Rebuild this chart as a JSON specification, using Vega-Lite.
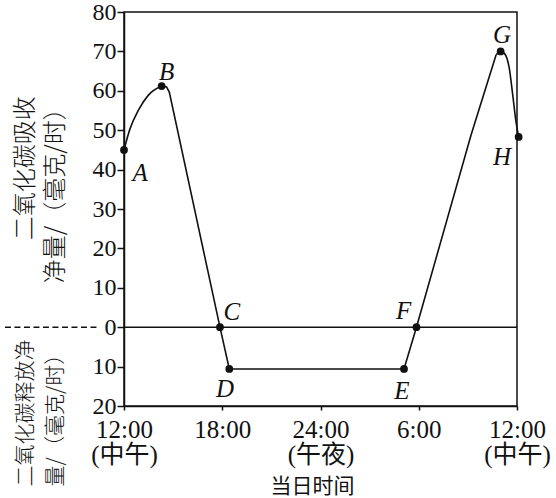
{
  "$schema": "https://vega.github.io/schema/vega-lite/v6.json",
  "width": 393,
  "height": 394,
  "autosize": "none",
  "padding": {"left": 124, "top": 12, "right": 39, "bottom": 92},
  "background": "white",
  "config": {
    "view": {"stroke": "#111", "strokeWidth": 1.5},
    "font": "Liberation Serif"
  },
  "datasets": {
    "smooth": [
      {"t": 0, "v": 45, "grp": "AB"},
      {"t": 0.37, "v": 50.4, "grp": "AB"},
      {"t": 0.88, "v": 55.1, "grp": "AB"},
      {"t": 1.49, "v": 58.9, "grp": "AB"},
      {"t": 2.3, "v": 61.2, "grp": "AB"},
      {"t": 22.72, "v": 69.1, "grp": "GH"},
      {"t": 23.0, "v": 70, "grp": "GH"},
      {"t": 23.23, "v": 69.5, "grp": "GH"},
      {"t": 23.53, "v": 65.7, "grp": "GH"},
      {"t": 23.74, "v": 58.9, "grp": "GH"},
      {"t": 23.94, "v": 52.1, "grp": "GH"},
      {"t": 24.1, "v": 48.3, "grp": "GH"}
    ],
    "straight": [
      {"t": 2.3, "v": 61.2},
      {"t": 2.6, "v": 61.0},
      {"t": 2.77, "v": 59.6},
      {"t": 5.86, "v": 0},
      {"t": 6.43, "v": -10.6},
      {"t": 17.1, "v": -10.6},
      {"t": 17.86, "v": 0},
      {"t": 21.19, "v": 48.7},
      {"t": 22.72, "v": 69.1}
    ],
    "pts": [
      {"name": "A", "t": 0, "v": 45},
      {"name": "B", "t": 2.3, "v": 61.2},
      {"name": "C", "t": 5.86, "v": 0},
      {"name": "D", "t": 6.43, "v": -10.6},
      {"name": "E", "t": 17.1, "v": -10.6},
      {"name": "F", "t": 17.86, "v": 0},
      {"name": "G", "t": 23.0, "v": 70},
      {"name": "H", "t": 24.1, "v": 48.3}
    ],
    "lbls": [
      {"name": "A", "t": 0.98, "v": 39.1},
      {"name": "B", "t": 2.61, "v": 64.8},
      {"name": "C", "t": 6.58, "v": 3.8},
      {"name": "D", "t": 6.17, "v": -15.7},
      {"name": "E", "t": 16.97, "v": -16.1},
      {"name": "F", "t": 17.07, "v": 4.2},
      {"name": "G", "t": 23.09, "v": 74.1},
      {"name": "H", "t": 23.09, "v": 43.2}
    ],
    "zero": [{"t": 0, "t2": 24, "v": 0}],
    "dash": [{"t": -7.27, "t2": -1.65, "v": 0}],
    "titlesUp": [
      {"txt": "二氧化碳吸收", "t": -5.99, "v": 58.6},
      {"txt": "净量/（毫克/时）", "t": -4.16, "v": 58.6}
    ],
    "titlesDown": [
      {"txt": "二氧化碳释放净", "t": -5.99, "v": -40.4},
      {"txt": "量/（毫克/时）", "t": -4.16, "v": -40.4}
    ]
  },
  "encoding": {
    "x": {
      "field": "t", "type": "quantitative",
      "scale": {"domain": [0, 24], "nice": false, "zero": false},
      "axis": {
        "values": [0, 6, 12, 18, 24],
        "labelExpr": "datum.value == 0 || datum.value == 24 ? ['12:00', '(中午)'] : datum.value == 6 ? '18:00' : datum.value == 12 ? ['24:00', '(午夜)'] : '6:00'",
        "labelFont": "Liberation Serif, Noto Sans CJK SC",
        "labelFontSize": 25,
        "labelColor": "#111",
        "labelLineHeight": 25,
        "labelPadding": 7,
        "labelOverlap": false,
        "labelFlush": false,
        "tickSize": 4,
        "tickColor": "#111",
        "tickWidth": 1.5,
        "domainColor": "#111",
        "domainWidth": 1.5,
        "grid": false,
        "title": "当日时间",
        "titleFont": "Noto Sans CJK SC",
        "titleFontWeight": "normal",
        "titleFontSize": 21,
        "titleColor": "#111",
        "titlePadding": 8,
        "titleX": 188,
        "encode": {"labels": {"update": {"dx": {"signal": "datum.value == 0 ? 10 : 5"}}}}
      }
    },
    "y": {
      "field": "v", "type": "quantitative",
      "scale": {"domain": [-20, 80], "nice": false, "zero": false},
      "axis": {
        "values": [-20, -10, 0, 10, 20, 30, 40, 50, 60, 70, 80],
        "labelExpr": "'' + abs(datum.value)",
        "labelFont": "Liberation Serif",
        "labelFontSize": 24,
        "labelColor": "#111",
        "labelPadding": 1,
        "labelOverlap": false,
        "labelFlush": false,
        "tickSize": 7,
        "tickColor": "#111",
        "tickWidth": 1.5,
        "domainColor": "#111",
        "domainWidth": 1.5,
        "grid": false,
        "title": null
      }
    }
  },
  "layer": [
    {
      "data": {"name": "zero"},
      "mark": {"type": "rule", "color": "#111", "strokeWidth": 1.5},
      "encoding": {"x2": {"field": "t2"}}
    },
    {
      "data": {"name": "dash"},
      "mark": {"type": "rule", "color": "#111", "strokeWidth": 1.5, "strokeDash": [6, 3.5]},
      "encoding": {"x2": {"field": "t2"}}
    },
    {
      "data": {"name": "straight"},
      "mark": {"type": "line", "color": "#111", "strokeWidth": 1.6, "interpolate": "linear"},
      "encoding": {}
    },
    {
      "data": {"name": "smooth"},
      "mark": {"type": "line", "color": "#111", "strokeWidth": 1.6, "interpolate": "monotone"},
      "encoding": {"detail": {"field": "grp"}}
    },
    {
      "data": {"name": "pts"},
      "mark": {"type": "circle", "color": "#111", "opacity": 1, "size": 60},
      "encoding": {}
    },
    {
      "data": {"name": "lbls"},
      "mark": {"type": "text", "font": "Liberation Serif", "fontStyle": "italic", "fontSize": 25, "color": "#111", "align": "center", "baseline": "middle"},
      "encoding": {"text": {"field": "name"}}
    },
    {
      "data": {"name": "titlesUp"},
      "mark": {"type": "text", "font": "Noto Sans CJK SC", "fontWeight": 300, "fontSize": 24, "color": "#111", "angle": 270, "align": "right", "baseline": "middle"},
      "encoding": {"text": {"field": "txt"}}
    },
    {
      "data": {"name": "titlesDown"},
      "mark": {"type": "text", "font": "Noto Sans CJK SC", "fontWeight": 300, "fontSize": 21, "color": "#111", "angle": 270, "align": "left", "baseline": "middle"},
      "encoding": {"text": {"field": "txt"}}
    }
  ]
}
